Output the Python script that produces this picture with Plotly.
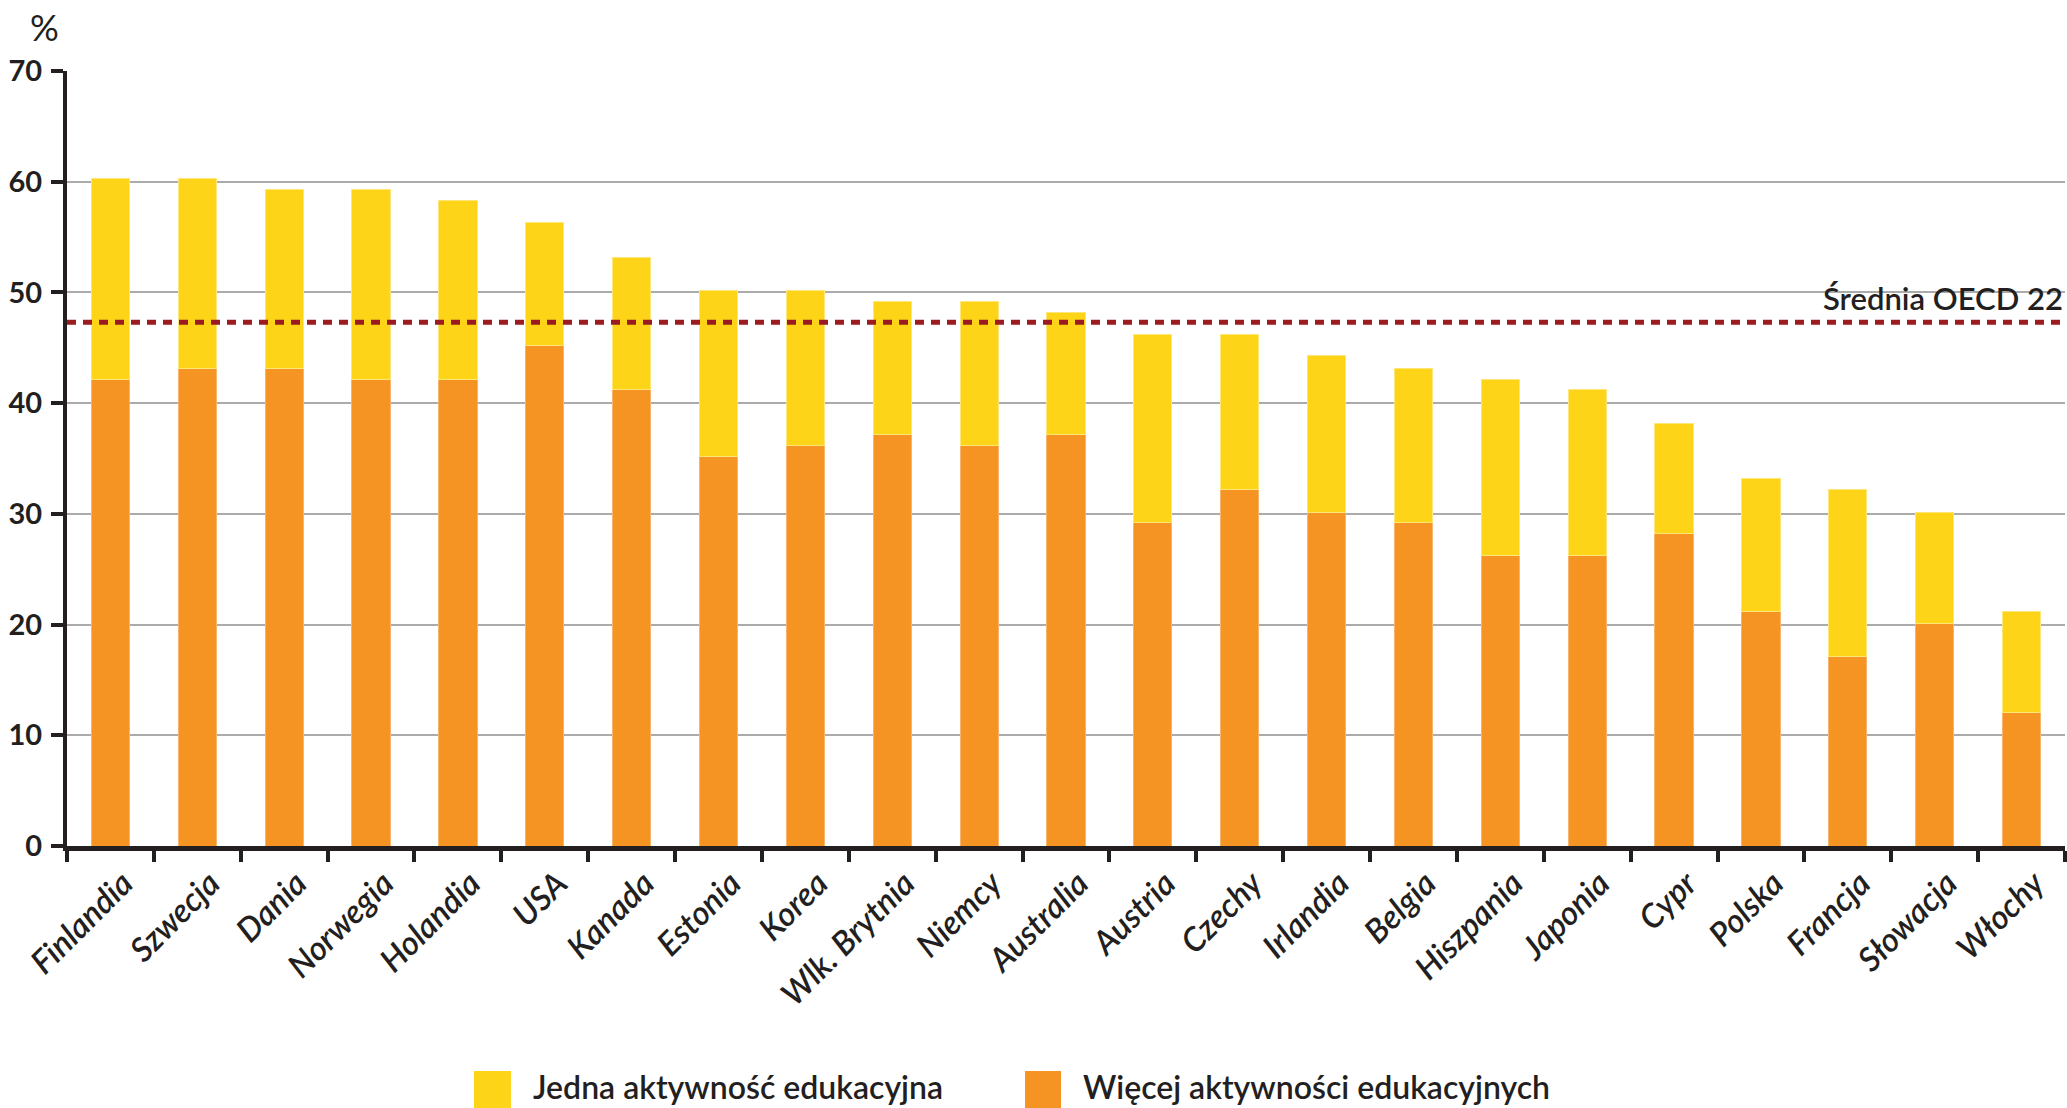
import plotly.graph_objects as go

countries = ["Finlandia", "Szwecja", "Dania", "Norwegia", "Holandia", "USA", "Kanada",
             "Estonia", "Korea", "Wlk. Brytnia", "Niemcy", "Australia", "Austria", "Czechy",
             "Irlandia", "Belgia", "Hiszpania", "Japonia", "Cypr", "Polska", "Francja",
             "Słowacja", "Włochy"]
more_activities = [42.1, 43.1, 43.1, 42.1, 42.1, 45.2, 41.2, 35.2, 36.2, 37.2, 36.2, 37.2,
                   29.2, 32.2, 30.1, 29.2, 26.2, 26.2, 28.2, 21.2, 17.1, 20.1, 12.1]
one_activity = [18.2, 17.2, 16.2, 17.2, 16.2, 11.1, 12.0, 15.0, 14.0, 12.0, 13.0, 11.0,
                17.0, 14.0, 14.2, 13.9, 15.9, 15.0, 10.0, 12.0, 15.1, 10.0, 9.1]
oecd_avg = 47.3
y_ticks = [0, 10, 20, 30, 40, 50, 60, 70]

name_one = "Jedna aktywność edukacyjna"
name_more = "Więcej aktywności edukacyjnych"
oecd_label = "Średnia OECD 22"

YELLOW = "#FDD417"
ORANGE = "#F59423"
DARK = "#231F20"
FONT = "Lato"

fig = go.Figure()
fig.add_trace(go.Bar(x=countries, y=more_activities, name=name_more,
                     marker=dict(color=ORANGE, line=dict(width=1, color="#F8B46A")),
                     width=0.44, showlegend=False))
fig.add_trace(go.Bar(x=countries, y=one_activity, name=name_one,
                     marker=dict(color=YELLOW, line=dict(width=1, color="#FEE679")),
                     width=0.44, showlegend=False))

fig.add_shape(type="line", xref="paper", x0=0, x1=1, yref="y", y0=oecd_avg, y1=oecd_avg,
              line=dict(color="#9B1C20", width=5, dash="9px,7px"), layer="above")
fig.add_annotation(xref="paper", x=1.0, yref="y", y=oecd_avg, text=oecd_label,
                   showarrow=False, xanchor="right", yanchor="bottom", yshift=3,
                   font=dict(family=FONT, size=31, color=DARK, weight=600))

# "%" unit label
fig.add_annotation(xref="paper", x=-0.0115, yref="paper", y=1.0574, text="%",
                   showarrow=False, xanchor="center", yanchor="middle",
                   font=dict(family=FONT, size=36, color=DARK, weight=400))

# manual legend
legend_items = [(name_one, YELLOW, 0.2037, 0.2222, 0.2322),
                (name_more, ORANGE, 0.4795, 0.4975, 0.5075)]
for label, color, x0, x1, xt in legend_items:
    fig.add_shape(type="rect", xref="paper", yref="paper", x0=x0, x1=x1,
                  y0=-0.338, y1=-0.2903, fillcolor=color, line=dict(width=0))
    fig.add_annotation(xref="paper", x=xt, yref="paper", y=-0.338, text=label,
                       showarrow=False, xanchor="left", yanchor="bottom",
                       font=dict(family=FONT, size=32, color=DARK, weight=600))

fig.update_layout(
    width=2067, height=1108,
    barmode="stack", bargap=0.56,
    plot_bgcolor="white", paper_bgcolor="white",
    margin=dict(l=67, r=2, t=71, b=262),
    font=dict(family=FONT, color=DARK),
)
fig.update_xaxes(
    type="category", tickangle=-45, tickson="boundaries",
    ticks="outside", ticklen=11, tickwidth=4, tickcolor=DARK,
    showline=True, linecolor=DARK, linewidth=5, showgrid=False,
    ticklabelshift=13,
    tickfont=dict(family=FONT, size=33, color=DARK, style="italic", weight=600),
)
fig.update_yaxes(
    range=[0, 70], tickvals=y_ticks, ticks="outside", ticklen=12, tickwidth=4,
    tickcolor=DARK, showline=True, linecolor=DARK, linewidth=4,
    showgrid=True, gridcolor="#ABABAB", gridwidth=2, zeroline=False,
    ticklabelstandoff=3,
    tickfont=dict(family=FONT, size=29, color=DARK, weight=700),
)

fig.write_html("out.html", config={"displayModeBar": False},
               post_script="document.body.style.margin='0';document.body.style.overflow='hidden';")
